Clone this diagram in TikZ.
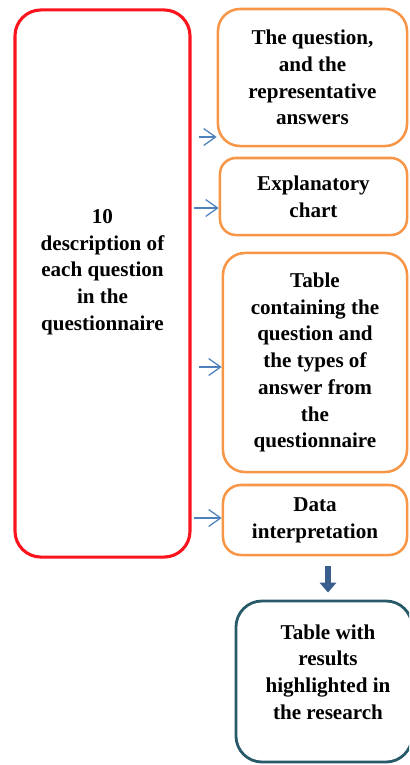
\documentclass[tikz,border=0pt]{standalone}
\usepackage{fontspec}
\setmainfont{Liberation Serif}
\usepackage{xcolor}
\usepackage{tikz}
\usetikzlibrary{arrows.meta}
\definecolor{boxred}{RGB}{250,20,30}
\definecolor{boxorange}{RGB}{247,150,70}
\definecolor{boxteal}{RGB}{40,90,105}
\definecolor{linkblue}{RGB}{79,129,189}
\definecolor{downblue}{RGB}{58,94,140}

\begin{document}
\begin{tikzpicture}[x=0.025cm, y=-0.025cm,
    txt/.style={font=\fontsize{15}{19}\selectfont\bfseries, align=center, text=black},
    mainbox/.style={draw=boxred, line width=2.2pt, rounded corners=0.65cm},
    stepbox/.style={txt, draw=boxorange, line width=1.8pt, rounded corners=0.55cm},
    resbox/.style={draw=boxteal, line width=2pt, rounded corners=0.65cm},
    link/.style={-{Straight Barb[length=8.5pt, width=12pt]}, linkblue, line width=0.9pt},
    downarr/.style={-{Triangle[length=7pt, width=11.5pt]}, downblue, line width=4.6pt}]
  \clip (0,0) rectangle (409,765);
  \useasboundingbox (0,0) rectangle (409,765);
  % Left column: description of the questions
  \node[mainbox, minimum width=4.375cm, minimum height=13.675cm] (desc) at (102.5,283.5) {};
  \node[txt] (desctext) at (102.5,272) {10\\description of\\each question\\in the\\questionnaire};
  % Right column: what is produced for each question
  \node[stepbox, minimum width=4.725cm, minimum height=3.425cm] (quest) at (312.5,77.5)
    {The question,\\and the\\representative\\answers};
  \node[stepbox, minimum width=4.675cm, minimum height=1.925cm, rounded corners=0.4cm] (chart) at (313.5,196.5)
    {Explanatory\\chart};
  \node[stepbox, minimum width=4.6cm, minimum height=5.475cm] (table) at (315,362.5)
    {Table\\containing the\\question and\\the types of\\answer from\\the\\questionnaire};
  \node[stepbox, minimum width=4.6cm, minimum height=1.75cm, rounded corners=0.45cm] (interp) at (315,520)
    {Data\\interpretation};
  % Final result
  \node[resbox, minimum width=4.4cm, minimum height=4.025cm] (res) at (324,681.5) {};
  \node[txt] (restext) at (328,672) {Table with\\results\\highlighted in\\the research};
  % Arrow ends on the boxes
  \coordinate (a1) at (quest.west |- 0,137);
  \coordinate (a2) at (chart.west |- 0,208);
  \coordinate (a3) at (table.west |- 0,367);
  \coordinate (a4) at (interp.west |- 0,518);
  % Thin arrows from the description
  \draw[link] ([xshift=5pt]desc.east |- a1) -- (a1);
  \draw[link] ([xshift=2pt]desc.east |- a2) -- (a2);
  \draw[link] ([xshift=5pt]desc.east |- a3) -- (a3);
  \draw[link] ([xshift=2pt]desc.east |- a4) -- (a4);
  % Block arrow down to the result
  \draw[downarr, shorten <=7pt, shorten >=5pt] (restext.north |- interp.south) -- (restext.north |- res.north);
\end{tikzpicture}
\end{document}
